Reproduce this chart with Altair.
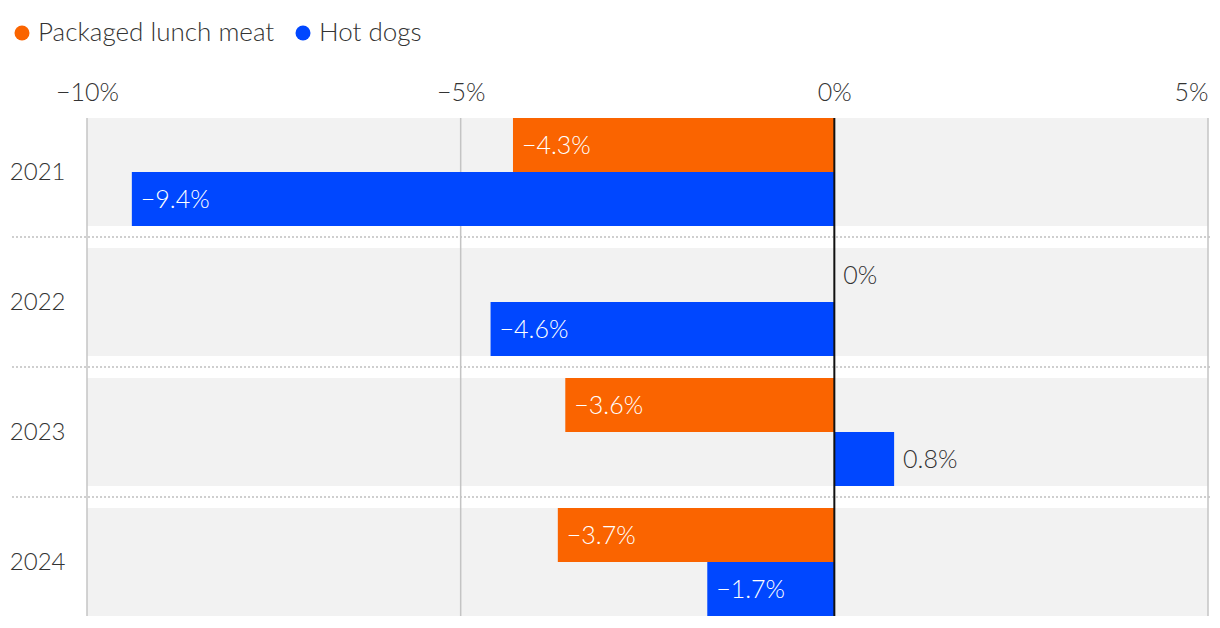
import altair as alt
import pandas as pd

years = ["2021", "2022", "2023", "2024"]
lunch_meat = [-4.3, 0.0, -3.6, -3.7]
hot_dogs = [-9.4, -4.6, 0.8, -1.7]
series = ["Packaged lunch meat", "Hot dogs"]
colors = ["#FA6400", "#0047FF"]
x_ticks = [-10, -5, 0, 5]
grid_vals = [-10, -5, 5]

FONT = "Lato"
FS = 25

rows = []
for i, y in enumerate(years):
    rows.append({"year": y, "series": series[0], "value": lunch_meat[i]})
    rows.append({"year": y, "series": series[1], "value": hot_dogs[i]})
df = pd.DataFrame(rows)

def fmt(v):
    s = f"{abs(v):.1f}".rstrip("0").rstrip(".") if v != 0 else "0"
    return ("\u2212" if v < 0 else "") + s + "%"

df["label"] = df["value"].apply(fmt)
df["neg"] = df["value"] < 0

bg_df = pd.DataFrame({"year": years, "x0": [-10] * 4, "x1": [5] * 4})
sep_df = pd.DataFrame({"year": years[:-1]})
grid_df = pd.DataFrame({"v": grid_vals})
zero_df = pd.DataFrame({"v": [0]})

xscale = alt.Scale(domain=[-10, 5], nice=False, zero=False)
yscale = alt.Scale(domain=years, paddingInner=22 / 130, paddingOuter=0)

x_axis = alt.Axis(
    orient="top", values=x_ticks, title=None, grid=False, domain=False, ticks=False,
    labelExpr="datum.value == 0 ? '0%' : (datum.value < 0 ? '\u2212' + abs(datum.value) + '%' : datum.value + '%')",
    labelAlign=alt.expr("datum.value == 5 ? 'right' : 'center'"),
    labelFont=FONT, labelFontSize=FS, labelColor="#333333", labelFontWeight=300, labelPadding=13,
)
y_axis = alt.Axis(
    title=None, domain=False, ticks=False, grid=False,
    labelFont=FONT, labelFontSize=24, labelColor="#333333", labelFontWeight=300,
    labelPadding=22, labelBaseline="middle", labelOffset=1,
)

bg = alt.Chart(bg_df).mark_rect(color="#f2f2f2").encode(
    x=alt.X("x0:Q", scale=xscale, axis=x_axis),
    x2="x1:Q",
    y=alt.Y("year:N", scale=yscale, axis=y_axis),
)

sep = alt.Chart(sep_df).mark_rule(
    color="#cfcfcf", strokeWidth=2, strokeDash=[2, 2], yOffset=11
).encode(
    y=alt.Y("year:N", bandPosition=1),
    x=alt.value(-75),
    x2=alt.value(1123),
)

grid = alt.Chart(grid_df).mark_rule(color="#c4c4c4", strokeWidth=1.5).encode(
    x=alt.X("v:Q")
)

bars = alt.Chart(df).mark_bar(cornerRadius=0).encode(
    x=alt.X("value:Q"),
    x2=alt.datum(0),
    y=alt.Y("year:N"),
    yOffset=alt.YOffset("series:N", sort=series, scale=alt.Scale(paddingInner=0, paddingOuter=0)),
    color=alt.Color(
        "series:N",
        sort=series,
        scale=alt.Scale(domain=series, range=colors),
        legend=alt.Legend(
            title=None, orient="none", direction="horizontal",
            legendX=-78, legendY=-98,
            symbolType="circle", symbolSize=225, symbolStrokeWidth=0,
            labelFont=FONT, labelFontSize=26, labelColor="#333333", labelFontWeight=300,
            labelOffset=3, columnPadding=15, labelLimit=0,
        ),
    ),
)

labels = alt.Chart(df).mark_text(
    align="left", baseline="middle", dx=9, dy=1, font=FONT, fontSize=FS, fontWeight=300
).encode(
    x=alt.X("value:Q"),
    y=alt.Y("year:N"),
    yOffset=alt.YOffset("series:N", sort=series),
    text="label:N",
    color=alt.condition("datum.neg", alt.value("#ffffff"), alt.value("#333333")),
)

zero = alt.Chart(zero_df).mark_rule(color="#111111", strokeWidth=2).encode(
    x=alt.X("v:Q")
)

chart = alt.layer(bg, sep, grid, bars, labels, zero).properties(
    width=1121,
    height=498,
    autosize=alt.AutoSizeParams(type="none"),
    padding={"left": 79, "top": 110, "right": 4, "bottom": 4},
).configure_view(stroke=None)

chart.save("out.html", embed_options={"renderer": "svg", "actions": False})
